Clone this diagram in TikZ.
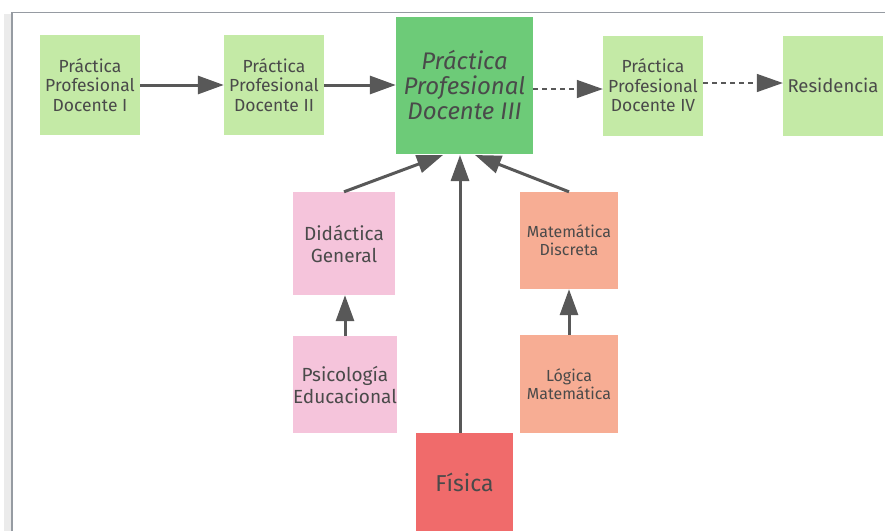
\documentclass[tikz,border=0pt]{standalone}
\usepackage{fontspec}
\setmainfont{Fira Sans}
\usepackage{xcolor}
\usepackage{tikz}
\usetikzlibrary{positioning, calc, arrows.meta, shadows}
\definecolor{paleGreen}{RGB}{196, 234, 166}
\definecolor{coreGreen}{RGB}{109, 203, 120}
\definecolor{rosePink}{RGB}{245, 196, 219}
\definecolor{salmonOrg}{RGB}{247, 173, 148}
\definecolor{fisRed}{RGB}{240, 107, 107}
\definecolor{inkGray}{RGB}{74, 74, 74}
\definecolor{arrowGray}{RGB}{88, 88, 88}
\definecolor{frameGray}{RGB}{150, 155, 162}
\tikzset{
    subjbox/.style={
        draw=none, minimum width=100pt, minimum height=100pt, anchor=center,
        text=inkGray, align=center, inner sep=0pt,
        drop shadow={shadow xshift=4pt, shadow yshift=-5pt, shadow scale=0.9, opacity=0.35, fill=black!70}
    },
    solidarr/.style={
        -{Triangle[length=26pt, width=18pt]}, line width=3pt, arrowGray
    },
    dasharr/.style={
        -{Triangle[length=26pt, width=18pt]}, line width=1.5pt, arrowGray, dash pattern=on 5pt off 4pt
    }
}

\begin{document}
\begin{tikzpicture}[
        x=1pt, y=-1pt,
        % --- STYLE ---
        txtstd/.style={font=\fontsize{17.5}{19.5}\selectfont},
        txtsmall/.style={font=\fontsize{16}{18}\selectfont},
        txtmid/.style={font=\fontsize{19}{22}\selectfont},
        txtbig/.style={font=\fontsize{24}{25}\selectfont\itshape}
    ]
        \useasboundingbox (0,0) rectangle (885,531);

        % ==========================================
        % MARCO DE LA VENTANA
        % ==========================================
        \fill[black!8] (4,14) rectangle (11,531);
        \draw[frameGray, line width=1.5pt] (12,531) -- (12,12.5) -- (885,12.5);

        % ==========================================
        % FILA SUPERIOR: PRACTICAS
        % ==========================================
        \node[subjbox, fill=paleGreen, txtstd] (ppd1) at (90,85) {Práctica\\Profesional\\Docente I};
        \node[subjbox, fill=paleGreen, txtstd] (ppd2) at (274,85) {Práctica\\Profesional\\Docente II};
        \node[subjbox, fill=coreGreen, txtbig, minimum width=137pt, minimum height=137pt] (ppd3) at (464.5,85.5) {Práctica\\Profesional\\Docente III};
        \node[subjbox, fill=paleGreen, txtstd] (ppd4) at (653,85.5) {Práctica\\Profesional\\Docente IV};
        \node[subjbox, fill=paleGreen, font=\fontsize{18.5}{20}\selectfont] (resid) at (833,85.5) {Residencia};

        \draw[solidarr] (ppd1.east |- 0,85) -- (ppd2.west |- 0,85);
        \draw[solidarr] (ppd2.east |- 0,85) -- (ppd3.west |- 0,85);
        \draw[dasharr] (ppd3.east |- 0,89) -- (ppd4.west |- 0,89);
        \draw[dasharr] (ppd4.east |- 0,83) -- (resid.west |- 0,83);

        % ==========================================
        % CORRELATIVAS DE PPD III
        % ==========================================
        \node[subjbox, fill=rosePink, txtmid, minimum width=102pt, minimum height=103pt] (didac) at (344,243.5) {Didáctica\\General};
        \node[subjbox, fill=rosePink, txtmid, minimum width=96pt, minimum height=97pt] (psico) at (345,384.5) {Psicología\\Educacional};
        \node[subjbox, fill=salmonOrg, txtsmall, minimum width=98pt, minimum height=97pt] (matdis) at (569,240.5) {Matemática\\Discreta};
        \node[subjbox, fill=salmonOrg, txtsmall, minimum width=98pt, minimum height=98pt] (logica) at (569,384) {Lógica\\Matemática};
        \node[subjbox, fill=fisRed, font=\fontsize{23}{26}\selectfont, minimum width=97pt, minimum height=98pt, drop shadow={opacity=0}] (fisica) at (464.5,482) {Física};

        \draw[solidarr] (didac.north) -- (443,155);
        \draw[solidarr] (fisica.north -| 460,0) -- (460,155);
        \draw[solidarr] (matdis.north) -- (475,155);
        \draw[solidarr] (psico.north) -- (didac.south -| psico.north);
        \draw[solidarr] (logica.north) -- (matdis.south -| logica.north);

    \end{tikzpicture}
\end{document}
